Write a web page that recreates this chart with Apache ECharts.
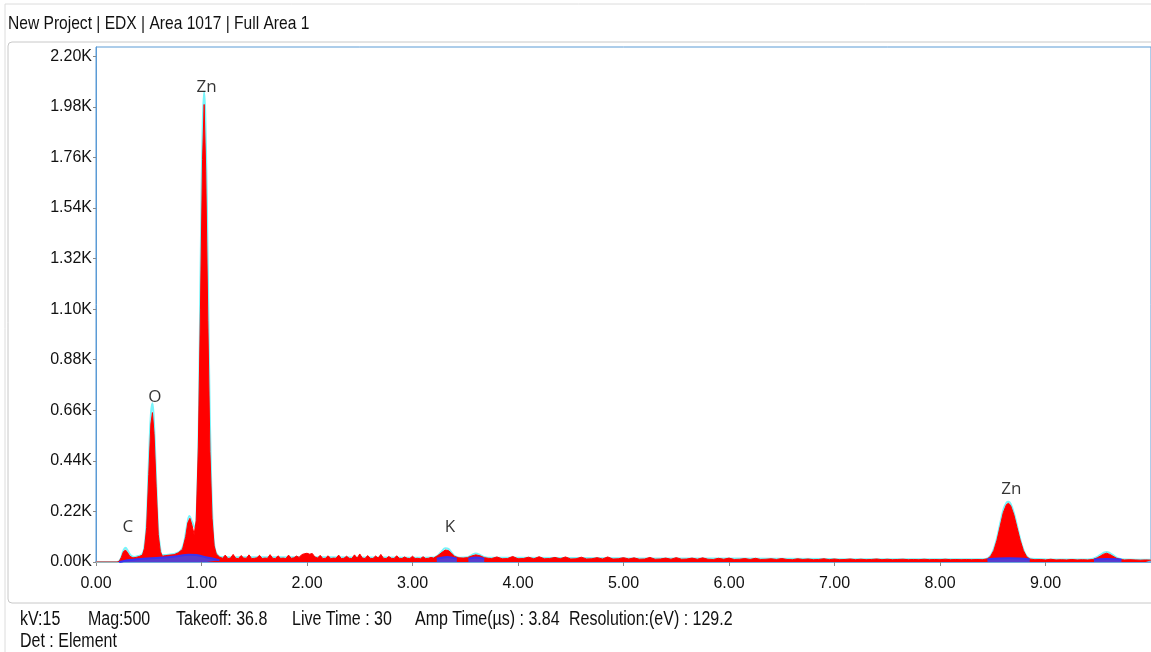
<!DOCTYPE html>
<html>
<head>
<meta charset="utf-8">
<script src="https://cdn.jsdelivr.net/npm/echarts@6/dist/echarts.min.js"></script>
<style>
html,body{margin:0;padding:0;background:#fff;}
#chart{width:1151px;height:652px;}
</style>
</head>
<body>
<div id="chart"></div>
<script>
// ---- data (keV, counts) ----
var spectrumE = [0.00,0.20,0.22,0.24,0.26,0.28,0.30,0.32,0.35,0.38,0.41,0.44,0.46,0.48,0.50,0.52,0.535,0.55,0.57,0.59,0.61,0.63,0.66,0.70,0.74,0.78,0.82,0.85,0.87,0.89,0.91,0.93,0.95,0.97,0.99,1.01,1.025,1.04,1.06,1.08,1.10,1.12,1.14,1.17,
1.200,1.225,1.250,1.275,1.300,1.325,1.350,1.375,1.400,1.425,1.450,1.475,1.500,1.525,1.550,1.575,1.600,1.625,1.650,1.675,1.700,1.725,1.750,1.775,1.800,1.825,1.850,1.875,1.900,1.925,1.950,1.975,
2.000,2.025,2.050,2.075,2.100,2.125,2.150,2.175,2.200,2.225,2.250,2.275,2.300,2.325,2.350,2.375,2.400,2.425,2.450,2.475,2.500,2.525,2.550,2.575,2.600,2.625,2.650,2.675,2.700,2.725,2.750,2.775,2.800,2.825,2.850,2.875,2.900,2.925,2.950,2.975,
3.000,3.025,3.050,3.075,3.100,3.125,3.150,3.175,3.200,
3.24,3.28,3.31,3.34,3.37,3.40,3.44,3.48,3.52,3.56,3.60,3.64,3.68,3.72,
3.75,3.80,3.85,3.90,3.95,4.00,4.05,4.10,4.15,4.20,4.25,4.30,4.35,4.40,4.45,4.50,4.55,4.60,4.65,4.70,4.75,4.80,4.85,4.90,4.95,
5.00,5.05,5.10,5.15,5.20,5.25,5.30,5.35,5.40,5.45,5.50,5.55,5.60,5.65,5.70,5.75,5.80,5.85,5.90,5.95,
6.00,6.05,6.10,6.15,6.20,6.25,6.30,6.35,6.40,6.45,6.50,6.55,6.60,6.65,6.70,6.75,6.80,6.85,6.90,6.95,
7.00,7.05,7.10,7.15,7.20,7.25,7.30,7.35,7.40,7.45,7.50,7.55,7.60,7.65,7.70,7.75,7.80,7.85,7.90,7.95,
8.00,8.05,8.10,8.15,8.20,8.25,8.30,8.35,8.40,
8.45,8.48,8.51,8.54,8.57,8.60,8.63,8.65,8.67,8.70,8.73,8.76,8.79,8.82,8.85,8.90,
8.95,9.00,9.05,9.10,9.15,9.20,9.25,9.30,9.35,9.40,9.45,9.49,9.52,9.55,9.58,9.61,9.64,9.67,9.71,9.75,9.80,9.85,9.90,9.95,10.00];
var spectrumCounts = [0,0,3,20,45,52,40,25,18,20,24,30,60,150,380,600,650,560,330,120,45,25,28,30,32,40,55,110,170,190,160,120,180,500,1100,1750,1990,1700,1050,480,190,70,35,22,
16,30,15,17,33,16,15,28,17,16,31,15,16,18,29,15,17,16,32,16,15,27,16,17,15,30,16,18,26,20,32,36,
38,34,37,22,17,29,15,16,27,15,17,16,30,15,16,25,16,15,31,16,35,17,15,28,16,15,26,17,33,16,15,24,16,15,27,16,15,22,16,15,
25,15,16,14,23,15,16,20,17,
28,42,52,50,38,24,18,17,19,26,31,27,19,16,
15,22,14,15,24,14,15,21,14,23,14,15,20,14,22,13,14,21,13,14,19,13,22,13,14,
19,13,18,12,13,20,12,13,17,12,19,12,13,17,12,18,12,11,16,12,
17,11,12,15,11,16,11,12,14,11,15,11,10,14,11,13,10,11,14,10,
13,10,11,13,10,12,10,11,13,10,12,10,11,12,10,11,10,12,10,11,
10,12,10,11,10,11,10,11,10,
14,25,50,95,155,215,250,256,245,205,150,95,50,24,13,10,
11,9,12,9,10,9,11,9,10,9,11,18,26,34,38,33,25,17,11,9,10,9,8,9,8];

var fitE = [0.00,0.20,0.23,0.26,0.28,0.30,0.33,0.36,0.40,0.44,0.46,0.48,0.50,0.52,0.535,0.55,0.57,0.59,0.61,0.63,0.66,0.70,0.75,0.80,0.83,0.86,0.885,0.91,0.935,0.96,0.98,1.00,1.025,1.05,1.07,1.09,1.11,1.13,1.16,1.20,1.50,2.00,2.50,3.00,3.20,
3.24,3.28,3.31,3.34,3.37,3.40,3.45,3.52,3.56,3.60,3.64,3.68,3.74,4.00,5.00,6.00,7.00,8.00,8.40,
8.45,8.48,8.51,8.54,8.57,8.60,8.63,8.65,8.67,8.70,8.73,8.76,8.79,8.82,8.86,9.00,9.40,
9.45,9.49,9.52,9.55,9.58,9.61,9.64,9.67,9.71,9.76,10.00];
var fitCounts = [0,0,10,50,62,50,28,22,26,35,70,170,420,640,690,600,360,140,55,30,30,33,36,48,75,150,200,175,150,300,800,1600,2045,1600,900,380,130,50,26,21,21,21,20,19,20,
28,48,60,57,41,26,19,21,30,37,31,22,18,18,16,15,13,12,12,
16,28,56,103,166,226,258,262,253,213,158,100,54,26,14,12,11,
14,22,31,40,44,39,30,20,13,11,10];

var bgE = [0.22,0.30,0.45,0.60,0.75,0.88,0.95,1.05,1.17,1.19,
3.23,3.33,3.42,3.45,3.53,3.60,3.68,3.70,
8.45,8.55,8.65,8.75,8.85,8.87,9.46,9.58,9.72];
var bgCounts = [0,8,14,18,24,32,30,20,8,null,
14,22,14,null,14,20,14,null,
12,15,16,15,12,null,11,13,11];

var peakNames = ['C','O','Zn','K','Zn'];
var peakE = [0.302,0.558,1.049,3.355,8.677];
var peakCounts = [152,717,2065,152,317];

var yTicks = [0,220,440,660,880,1100,1320,1540,1760,1980,2200];

var infoTexts = ['kV:15','Mag:500','Takeoff: 36.8','Live Time : 30','Amp Time(\u00b5s) : 3.84','Resolution:(eV) : 129.2'];
var infoX = [20,88,176,292,415,569];

function zip(a,b){var r=[];for(var i=0;i<a.length;i++){r.push([a[i],b[i]]);}return r;}
var peakData = [];
for (var i=0;i<peakNames.length;i++){peakData.push({name:peakNames[i],value:[peakE[i],peakCounts[i]]});}

var sans = "'Liberation Sans',Arial,sans-serif";
var graphics = [
  {type:'rect',silent:true,z:-10,shape:{x:5,y:4,width:1200,height:700},style:{fill:'none',stroke:'#dcdcdc',lineWidth:1}},
  {type:'rect',silent:true,z:-9,shape:{x:8,y:42,width:1200,height:561,r:4},style:{fill:'none',stroke:'#c8c8c8',lineWidth:1}},
  {type:'text',x:8,y:24,scaleX:0.82,style:{text:'New Project | EDX | Area 1017 | Full Area 1',font:'19px '+sans,fill:'#111',verticalAlign:'middle'}},
  {type:'text',x:20,y:642,scaleX:0.82,style:{text:'Det : Element',font:'19.5px '+sans,fill:'#111',verticalAlign:'middle'}}
];
for (var j=0;j<infoTexts.length;j++){
  graphics.push({type:'text',x:infoX[j],y:620,scaleX:0.82,style:{text:infoTexts[j],font:'19.5px '+sans,fill:'#111',verticalAlign:'middle'}});
}

var chart = echarts.init(document.getElementById('chart'));
chart.setOption({
  animation:false,
  backgroundColor:'#ffffff',
  graphic:graphics,
  grid:{left:96,top:47,width:1058,height:515,show:true,borderColor:'#5b9bd5',borderWidth:1,backgroundColor:'#fff'},
  xAxis:{type:'value',min:0,max:10,interval:1,
    axisLine:{show:true,lineStyle:{color:'#6fa8dc',width:2}},
    axisTick:{show:true,length:4,lineStyle:{color:'#888'}},
    splitLine:{show:false},
    axisLabel:{showMaxLabel:false,margin:14,color:'#111',fontSize:16,fontFamily:sans,formatter:function(v){return v.toFixed(2);}}
  },
  yAxis:{type:'value',min:0,max:2240,interval:220,
    axisLine:{show:true,lineStyle:{color:'#5b9bd5',width:1}},
    axisTick:{show:true,length:3,lineStyle:{color:'#888'}},
    splitLine:{show:false},
    axisLabel:{showMaxLabel:false,margin:4,color:'#111',fontSize:16,fontFamily:sans,
      formatter:function(v){return yTicks.indexOf(v)>=0?(v/1000).toFixed(2)+'K':'';}}
  },
  series:[
    {type:'line',name:'fit',data:zip(fitE,fitCounts),showSymbol:false,symbol:'none',smooth:0.4,z:2,
      lineStyle:{color:'#78f4fa',width:2}},
    {type:'line',name:'spectrum',data:zip(spectrumE,spectrumCounts),showSymbol:false,symbol:'none',z:3,
      lineStyle:{color:'#ff0000',width:1},areaStyle:{color:'#ff0000',opacity:1}},
    {type:'line',name:'background',data:zip(bgE,bgCounts),showSymbol:false,symbol:'none',connectNulls:false,smooth:0.3,z:4,
      lineStyle:{color:'#3a32f0',width:2},areaStyle:{color:'#5a3ccc',opacity:1}},
    {type:'scatter',name:'labels',data:peakData,symbolSize:0,z:5,silent:true,
      label:{show:true,position:'inside',formatter:'{b}',color:'#000',fontSize:17,fontFamily:"'Open Sans','Noto Sans',sans-serif"}}
  ]
});
</script>
</body>
</html>
